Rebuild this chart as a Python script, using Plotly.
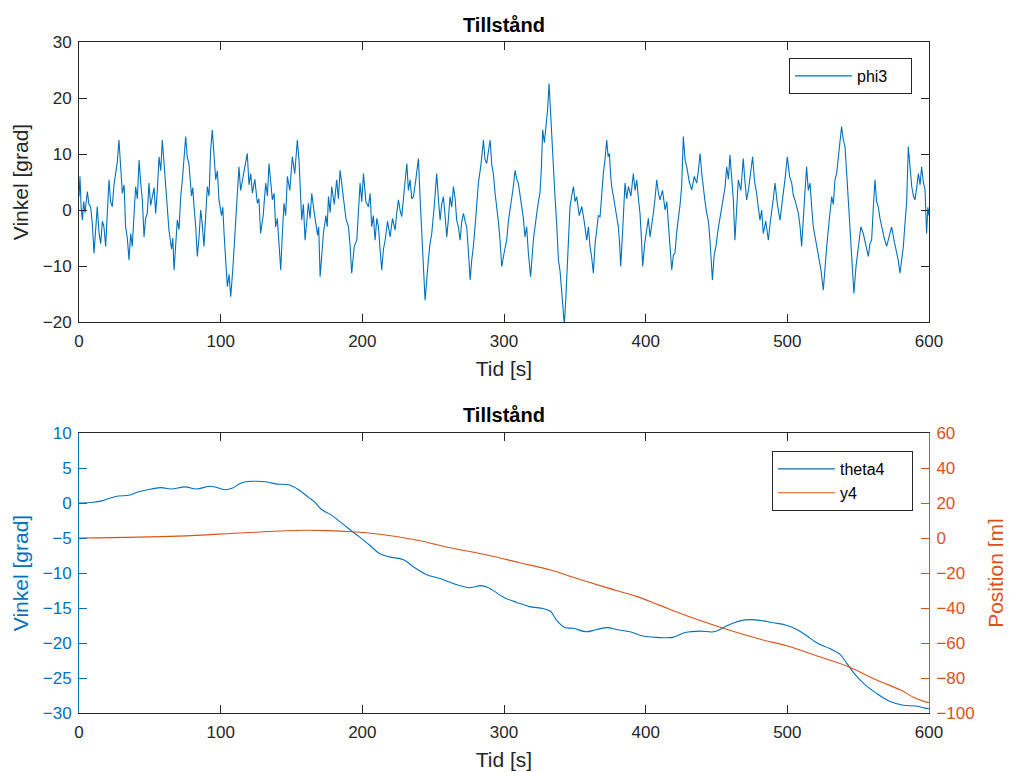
import plotly.graph_objects as go

# ---------------- data ----------------
# phi3: (time [s], angle [deg])
phi3_samples = [
    (0, 2.4), (0.7, 6.0), (1.5, 0.5), (2.4, -1.8), (3.3, 1.5), (4.2, -0.5), (5.9, 3.3), (7.0, 1.0),
    (8.2, 0.6), (9.4, -2.5), (10.6, -7.7), (11.8, -3.0), (12.9, 0.6), (14.1, -4.0), (15.3, -6.0),
    (16.5, -2.0), (17.6, -3.0), (18.8, -6.5), (20.0, -1.0), (21.2, 5.4), (22.3, 1.5), (23.5, 0.6),
    (24.7, 4.5), (25.9, 6.5), (27.0, 8.5), (28.2, 12.5), (29.4, 7.7), (30.6, 3.0), (31.8, 4.5),
    (32.9, -3.0), (34.1, -5.0), (35.3, -8.9), (36.5, -4.2), (37.6, -6.5), (38.8, -1.0), (40.0, 4.2),
    (41.2, 2.0), (42.4, 8.9), (43.5, 5.0), (44.7, 1.8), (45.9, -4.8), (47.0, -1.5), (48.2, -0.6),
    (49.4, 4.8), (50.6, 0.8), (51.8, 2.4), (53.0, 4.0), (54.1, -0.6), (55.3, 3.5), (56.5, 9.5),
    (57.7, 7.0), (58.8, 12.5), (60.0, 8.0), (61.2, 4.8), (62.4, 0.5), (63.5, -3.6), (65.3, -7.0),
    (66.2, -5.0), (67.1, -10.7), (68.2, -6.0), (69.4, -1.8), (70.6, -3.5), (71.8, 2.4), (73.0, 5.5),
    (74.1, 10.1), (75.3, 13.1), (76.4, 9.5), (77.6, 8.3), (79.4, 2.5), (80.3, 4.0), (81.2, 0.6),
    (82.4, -3.0), (83.5, -8.3), (84.7, -5.0), (85.9, 0.0), (87.0, -2.5), (88.2, -6.5), (89.4, -1.0),
    (90.6, 4.2), (91.8, 2.5), (92.9, 10.7), (94.1, 14.3), (95.3, 9.5), (96.5, 5.4), (97.7, 7.0),
    (98.8, 1.8), (100.6, -1.0), (101.5, 0.5), (102.4, -4.2), (103.5, -8.5), (104.7, -13.7),
    (105.9, -11.5), (107.1, -15.5), (108.7, -10.1), (109.6, -6.0), (110.6, -0.6), (111.7, 3.0),
    (112.9, 7.7), (114.1, 3.5), (115.3, 5.4), (117.0, 8.0), (118.8, 10.1), (120.0, 4.5),
    (121.2, 6.5), (122.4, 3.0), (124.1, 5.5), (125.9, 1.2), (127.0, 2.0), (128.2, -4.2),
    (130.0, -1.0), (131.8, 4.8), (133.0, 2.5), (134.1, 8.3), (135.3, 5.0), (136.5, 1.8),
    (137.7, 3.0), (138.8, -3.0), (140.0, -1.5), (141.2, -7.1), (142.4, -10.7), (143.5, -4.5),
    (144.7, 1.2), (145.9, -1.0), (147.1, 6.0), (148.8, 3.5), (150.6, 9.5), (152.3, 6.5),
    (154.1, 12.5), (155.3, 8.9), (156.1, 3.6), (157.2, -1.8), (158.4, 1.0), (159.6, -5.4),
    (160.8, -2.0), (161.9, 1.2), (163.1, -1.5), (164.3, 3.0), (165.5, 0.5), (166.6, -1.8),
    (168.4, -4.5), (169.2, -3.0), (170.2, -11.9), (171.4, -8.0), (172.5, -4.2), (174.3, -1.0),
    (175.2, -3.0), (176.1, 2.4), (177.3, -0.5), (178.4, 4.2), (180.2, 1.0), (181.9, 5.4),
    (183.1, 2.0), (184.3, 7.1), (185.5, 4.5), (186.6, 3.0), (188.4, -1.5), (190.2, -3.0),
    (191.4, -6.5), (192.5, -11.3), (194.3, -6.5), (196.1, -5.4), (197.3, -1.0), (198.4, 4.8),
    (199.6, 1.5), (200.8, 6.5), (202.5, 1.5), (204.3, 0.6), (205.5, 3.0), (206.6, -3.0),
    (207.8, -1.0), (209.0, -5.4), (210.2, -1.5), (211.4, -3.0), (212.5, -7.0), (213.7, -10.7),
    (214.9, -7.0), (216.1, -5.4), (217.8, -2.0), (219.6, -4.8), (221.3, -1.5), (223.1, -3.6),
    (224.3, -0.5), (225.5, 1.8), (226.6, 0.0), (227.8, -1.2), (229.0, 2.0), (230.2, 4.8),
    (231.4, 8.3), (232.5, 3.5), (233.7, 5.4), (234.9, 2.0), (236.1, 2.4), (237.8, 5.5),
    (239.6, 9.2), (240.8, 2.0), (241.9, -5.4), (243.1, -10.0), (244.3, -16.1), (245.5, -12.0),
    (246.6, -8.9), (247.8, -6.0), (249.0, -4.2), (250.7, 0.5), (252.5, 6.5), (253.7, 2.0),
    (254.9, -1.8), (256.0, 1.0), (257.2, 2.4), (258.4, -1.0), (259.6, -4.8), (260.8, -1.5),
    (261.9, 2.4), (263.1, 0.5), (264.3, 4.2), (265.5, 2.0), (266.6, -1.8), (267.8, -3.0),
    (269.0, -5.4), (270.2, -2.0), (271.4, -0.6), (272.5, -2.0), (273.7, -3.0), (274.9, -7.5),
    (276.1, -12.5), (277.2, -9.0), (278.4, -6.5), (280.2, -1.0), (281.9, 4.8), (283.7, 8.0),
    (285.5, 12.5), (286.6, 9.0), (287.8, 8.3), (289.0, 10.5), (290.2, 12.5), (291.4, 8.0),
    (292.5, 6.5), (293.7, 3.0), (294.9, 0.6), (296.0, -2.0), (297.2, -5.4), (298.4, -10.1),
    (300.2, -7.5), (301.9, -5.4), (303.1, -2.0), (304.3, 0.0), (305.5, 1.5), (306.6, 4.2),
    (307.8, 7.1), (309.0, 5.5), (310.1, 4.8), (311.3, 2.5), (312.5, 1.2), (313.7, -1.5),
    (314.8, -4.8), (316.0, -3.0), (317.2, -7.7), (318.8, -11.9), (320.7, -5.4), (321.9, -2.5),
    (323.1, -0.6), (324.3, 1.5), (325.4, 3.0), (326.4, 7.5), (327.3, 14.3), (328.5, 12.0),
    (329.7, 15.5), (330.8, 18.0), (331.8, 22.6), (332.8, 17.5), (333.7, 12.5), (334.9, 8.0),
    (336.0, 2.4), (337.2, -2.5), (338.4, -8.9), (339.6, -11.0), (340.7, -14.9), (341.7, -17.0),
    (342.6, -20.5), (343.5, -16.5), (344.3, -12.5), (345.5, -5.5), (346.6, 0.6), (347.8, 2.5),
    (349.0, 4.2), (350.2, 1.5), (351.3, 2.4), (353.1, -1.0), (354.9, 0.6), (356.6, -2.0),
    (358.4, -5.4), (359.6, -3.0), (360.7, -6.5), (361.9, -8.5), (363.1, -11.3), (364.3, -6.0),
    (365.4, -3.6), (366.6, -1.0), (367.8, -1.2), (369.0, 3.0), (370.1, 6.5), (371.3, 9.0),
    (372.5, 12.5), (373.5, 9.5), (374.4, 10.1), (375.2, 6.5), (376.0, 4.2), (377.2, 2.5),
    (378.4, 0.6), (379.6, -1.5), (380.7, -3.0), (381.6, -6.0), (382.4, -10.1), (383.9, -3.0),
    (385.4, 4.8), (386.6, 2.0), (387.8, 4.2), (389.6, 2.5), (391.3, 6.5), (392.5, 3.5),
    (393.7, 5.4), (394.9, 2.0), (396.0, -0.6), (397.0, -5.0), (397.9, -10.1), (399.3, -6.0),
    (400.7, -3.0), (401.9, -1.5), (403.1, -4.8), (404.3, -2.0), (405.4, -0.6), (406.6, 2.0),
    (407.8, 5.4), (409.0, 3.0), (410.1, 1.8), (411.9, 3.5), (413.7, 0.0), (414.9, 1.5),
    (416.0, -3.0), (417.2, -6.0), (418.4, -10.7), (419.6, -8.0), (420.7, -7.7), (421.9, -4.0),
    (423.1, -1.8), (424.3, 1.0), (425.4, 4.2), (426.6, 13.1), (427.8, 9.0), (429.0, 7.7),
    (430.8, 5.0), (432.5, 3.6), (434.3, 6.0), (436.0, 4.8), (437.2, 7.0), (438.4, 10.1),
    (439.6, 6.5), (440.7, 3.6), (441.9, 1.5), (443.1, -0.6), (444.3, -2.0), (445.4, -5.4),
    (446.3, -8.5), (447.1, -12.5), (448.4, -8.0), (449.6, -6.5), (451.1, -3.5), (452.5, -1.2),
    (453.7, 0.5), (454.8, 2.4), (456.0, 4.0), (457.2, 7.7), (458.4, 5.5), (459.5, 9.8),
    (460.7, 5.0), (461.9, 1.8), (463.0, -5.4), (464.2, 0.0), (465.4, 5.4), (467.2, 3.5),
    (468.9, 9.2), (470.1, 5.0), (471.3, 1.8), (472.5, 3.5), (473.6, 5.4), (474.6, 7.5),
    (475.5, 9.5), (476.9, 5.0), (478.3, 3.0), (479.5, 0.5), (480.7, -1.8), (481.9, 0.0),
    (483.0, -4.2), (484.8, -2.0), (486.6, -5.4), (487.8, -2.5), (488.9, -0.6), (490.1, 2.0),
    (491.3, 4.8), (493.0, 1.0), (494.8, -1.8), (496.0, 0.5), (497.2, 3.0), (498.6, 6.0),
    (500.0, 9.5), (501.6, 6.0), (503.1, 4.8), (504.3, 2.5), (505.4, 1.8), (506.6, 0.5),
    (507.8, -0.6), (509.0, -3.0), (510.1, -6.5), (511.9, 1.0), (513.6, 7.7), (514.8, 3.5),
    (516.0, 4.8), (517.2, 0.5), (518.3, -3.0), (520.1, -5.5), (521.9, -8.3), (523.6, -10.5),
    (525.4, -14.3), (526.6, -10.0), (527.8, -6.5), (529.5, -2.0), (531.3, 2.4), (532.5, 1.0),
    (533.6, 5.4), (534.8, 6.5), (536.0, 9.5), (537.2, 11.5), (538.3, 14.9), (539.5, 12.5),
    (540.7, 11.3), (541.9, 6.5), (543.0, 1.8), (544.2, -3.0), (545.4, -7.7), (546.2, -11.0),
    (547.0, -14.9), (548.5, -10.0), (550.1, -6.5), (551.9, -3.0), (553.6, -4.2), (555.4, -6.5),
    (557.2, -8.3), (558.3, -6.0), (559.5, -5.4), (560.7, 0.5), (561.9, 5.4), (563.0, 1.5),
    (564.2, 0.6), (565.4, -1.5), (566.6, -3.0), (568.4, -5.0), (570.1, -6.5), (571.9, -4.5),
    (573.6, -3.0), (575.4, -5.5), (577.2, -7.7), (578.3, -9.0), (579.5, -11.3), (580.7, -8.5),
    (581.9, -6.5), (583.0, -2.5), (584.2, 1.2), (585.4, 11.3), (586.6, 7.0), (587.8, 4.2),
    (589.0, 2.5), (590.1, 1.8), (591.3, 4.0), (592.5, 6.5), (593.7, 4.5), (594.8, 7.7),
    (596.0, 5.0), (597.2, 3.6), (598.3, -4.2), (599.2, 0.5), (600.0, -1.0),
]
phi3_t = [p[0] for p in phi3_samples]
phi3 = [p[1] for p in phi3_samples]

theta4_t = [0, 10, 16, 20.5, 28, 35, 42, 51, 58, 65, 75, 83, 93, 103, 108, 115, 122, 133, 140,
            148, 155, 162, 166, 171, 178, 185, 190, 197, 205, 212, 219, 229, 236, 245, 255, 264,
            276, 284, 290, 300, 309, 318, 328, 333, 337, 343, 349, 358, 365, 373, 380, 389, 398,
            408, 419, 428, 438, 448, 455, 461, 470, 478, 490, 500, 507, 514, 521, 530, 537, 542,
            547, 554, 563, 573, 582, 591, 597, 600]
theta4 = [0.0, 0.1, 0.3, 0.6, 1.0, 1.1, 1.6, 2.0, 2.2, 2.0, 2.3, 2.0, 2.4, 1.9, 2.1, 2.9, 3.1,
          3.0, 2.7, 2.6, 1.9, 0.8, 0.2, -0.9, -1.7, -2.8, -3.6, -4.7, -6.0, -7.2, -7.7, -8.1,
          -9.1, -10.2, -10.8, -11.5, -12.1, -11.8, -12.2, -13.5, -14.2, -14.8, -15.1, -15.5,
          -16.7, -17.8, -17.9, -18.4, -18.1, -17.8, -18.1, -18.4, -19.0, -19.2, -19.2, -18.5,
          -18.3, -18.4, -17.8, -17.2, -16.7, -16.7, -17.1, -17.5, -18.1, -19.0, -20.0, -20.8,
          -21.6, -22.9, -24.3, -25.8, -27.2, -28.4, -28.9, -29.0, -29.3, -29.4]

y4_t = [0, 70, 117, 159, 176, 192, 211, 238, 264, 288, 311, 333, 351, 370, 394, 410, 434, 457,
        481, 500, 521, 542, 563, 580, 589, 597, 600]
y4 = [0.0, 1.1, 3.0, 4.4, 4.2, 3.6, 2.3, -1.1, -5.9, -9.7, -14.1, -18.3, -23.0, -27.8, -33.5,
      -38.5, -45.9, -52.2, -57.9, -61.7, -67.4, -73.1, -81.1, -86.9, -91.0, -93.5, -94.0]

x_ticks = [0, 100, 200, 300, 400, 500, 600]

# ---------------- style ----------------
DARK = "#262626"
BLUE = "#0072BD"
ORANGE = "#D95319"
FONT = "Liberation Sans, Arial, Helvetica, sans-serif"
TICK_SIZE = 17
LABEL_SIZE = 21
NB = "\u00a0"

fig = go.Figure()
fig.add_trace(go.Scatter(x=phi3_t, y=phi3, mode="lines", name="phi3" + NB * 4,
                         line=dict(color=BLUE, width=1.1), xaxis="x", yaxis="y",
                         legend="legend"))
fig.add_trace(go.Scatter(x=theta4_t, y=theta4, mode="lines", name="theta4" + NB * 5,
                         line=dict(color=BLUE, width=1.1, shape="spline"), xaxis="x2",
                         yaxis="y2", legend="legend2"))
fig.add_trace(go.Scatter(x=y4_t, y=y4, mode="lines", name="y4",
                         line=dict(color=ORANGE, width=1.1, shape="spline"), xaxis="x2",
                         yaxis="y3", legend="legend2"))

common_x = dict(range=[0, 600], tickvals=x_ticks, ticks="inside", ticklen=8, tickwidth=1,
                tickcolor=DARK, showline=True, linecolor=DARK, linewidth=1, mirror="ticks",
                showgrid=False, zeroline=False, ticklabelstandoff=4, automargin=False,
                tickfont=dict(family=FONT, size=TICK_SIZE, color=DARK),
                title=dict(text="Tid [s]", font=dict(family=FONT, size=LABEL_SIZE, color=DARK),
                           standoff=10))

top_dom = [391 / 671, 1.0]
bot_dom = [0.0, 280 / 671]

fig.update_layout(
    width=1003, height=764,
    margin=dict(l=71, r=82, t=34, b=59, autoexpand=False),
    paper_bgcolor="white", plot_bgcolor="white",
    font=dict(family=FONT, color=DARK),
    xaxis=dict(domain=[0, 1], anchor="y", **common_x),
    yaxis=dict(domain=top_dom, anchor="x", range=[-20, 30], dtick=10, ticks="inside",
               ticklen=8, tickwidth=1, tickcolor=DARK, showline=True, linecolor=DARK,
               linewidth=1, mirror="ticks", showgrid=False, zeroline=False,
               ticklabelstandoff=3, automargin=False,
               tickfont=dict(family=FONT, size=TICK_SIZE, color=DARK),
               title=dict(text="Vinkel [grad]",
                          font=dict(family=FONT, size=LABEL_SIZE, color=DARK), standoff=8)),
    xaxis2=dict(domain=[0, 1], anchor="y2", **common_x),
    yaxis2=dict(domain=bot_dom, anchor="x2", range=[-30, 10], dtick=5, ticks="inside",
                ticklen=8, tickwidth=1, tickcolor=BLUE, showline=True, linecolor=BLUE,
                linewidth=1, showgrid=False, zeroline=False, ticklabelstandoff=3,
                automargin=False,
                tickfont=dict(family=FONT, size=TICK_SIZE, color=BLUE),
                title=dict(text="Vinkel [grad]",
                           font=dict(family=FONT, size=LABEL_SIZE, color=BLUE), standoff=8)),
    yaxis3=dict(overlaying="y2", anchor="x2", side="right", range=[-100, 60], dtick=20,
                ticks="inside", ticklen=8, tickwidth=1, tickcolor=ORANGE, showline=True,
                linecolor=ORANGE, linewidth=1, showgrid=False, zeroline=False,
                ticklabelstandoff=3, automargin=False,
                tickfont=dict(family=FONT, size=TICK_SIZE, color=ORANGE),
                title=dict(text="Position [m]",
                           font=dict(family=FONT, size=LABEL_SIZE, color=ORANGE), standoff=14)),
    legend=dict(x=(912 - 79) / 850, y=(713 - 58) / 671, xanchor="right", yanchor="top",
                bgcolor="white", bordercolor=DARK, borderwidth=1, itemwidth=57,
                font=dict(family=FONT, size=16, color="black")),
    legend2=dict(x=(913 - 79) / 850, y=(713 - 451) / 671, xanchor="right", yanchor="top",
                 bgcolor="white", bordercolor=DARK, borderwidth=1, itemwidth=57,
                 font=dict(family=FONT, size=16, color="black"), tracegroupgap=0),
    showlegend=True,
    annotations=[
        dict(text="<b>Tillstånd</b>", x=0.5, y=(713 - 25) / 671, xref="paper", yref="paper",
             showarrow=False, xanchor="center", yanchor="middle",
             font=dict(family=FONT, size=20, color="black")),
        dict(text="<b>Tillstånd</b>", x=0.5, y=(713 - 415) / 671, xref="paper", yref="paper",
             showarrow=False, xanchor="center", yanchor="middle",
             font=dict(family=FONT, size=20, color="black")),
    ],
)

fig.write_html("out.html")
